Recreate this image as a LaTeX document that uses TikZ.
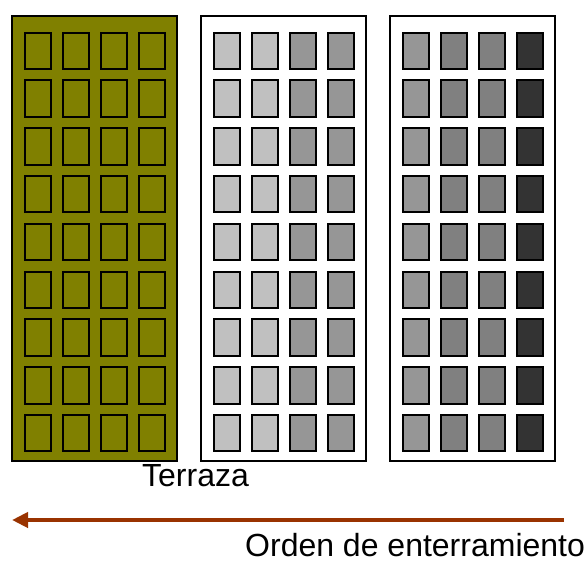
\documentclass[tikz,border=0pt]{standalone}
\usepackage{fontspec}
\setmainfont{Liberation Sans}
\usepackage{xcolor}
\usepackage{tikz}
\usetikzlibrary{arrows.meta,positioning}
\definecolor{olivo}{RGB}{128,128,0}
\definecolor{grisclaro}{RGB}{192,192,192}
\definecolor{grismedio}{RGB}{150,150,150}
\definecolor{grisoscuro}{RGB}{128,128,128}
\definecolor{casinegro}{RGB}{51,51,51}
\definecolor{flecha}{RGB}{153,51,0}
\tikzset{
    bloque/.style={rectangle, draw, line width=1.5pt, anchor=north west, inner sep=0pt, minimum width=165pt, minimum height=445pt},
    celda/.style={rectangle, draw, line width=2pt, anchor=north west, inner sep=0pt, minimum width=26.5pt, minimum height=36.5pt},
    linea/.style={draw, -{Triangle[length=16pt,width=15pt]}, line width=4pt, flecha},
    rotulo/.style={inner sep=0pt, anchor=base, font=\fontsize{32}{36}\selectfont}
}

\begin{document}
\begin{tikzpicture}[x=1pt, y=-1pt]
    \useasboundingbox (0,0) rectangle (587,562);

    \node[bloque, fill=olivo] (terraza) at (11,15) {};
    \node[bloque, fill=white] (bloque2) at (200,15) {};
    \node[bloque, fill=white] (bloque3) at (389,15) {};

    \foreach \b/\cA/\cB/\cC/\cD in {terraza/olivo/olivo/olivo/olivo, bloque2/grisclaro/grisclaro/grismedio/grismedio, bloque3/grismedio/grisoscuro/grisoscuro/casinegro}
        \foreach \col [count=\i from 0] in {\cA,\cB,\cC,\cD}
            \foreach \j in {0,...,8}
                \node[celda, fill=\col] (\b-\i-\j) at ([xshift=12.5pt+38*\i pt, yshift=-16.5pt-47.8*\j pt]\b.north west) {};

    \node[rotulo] (nombre) at (195.5,486) {Terraza};

    \coordinate (inicio) at (564,520);
    \coordinate (fin) at (12,520);
    \draw[linea] (inicio) -- (fin);

    \node[rotulo, anchor=base west] (orden) at (245,556.5) {Orden de enterramiento};
\end{tikzpicture}
\end{document}
